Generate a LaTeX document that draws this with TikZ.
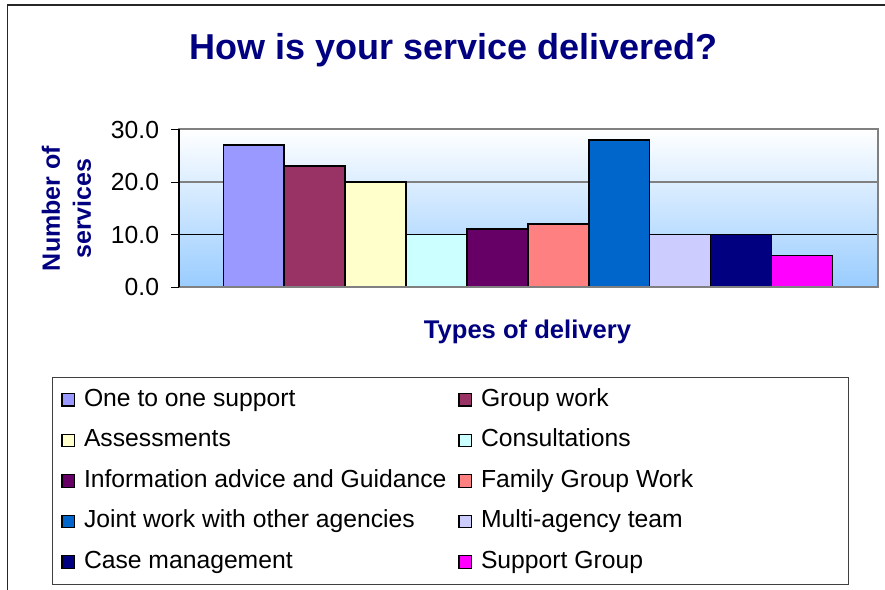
\documentclass[tikz,border=0pt]{standalone}
\usepackage{fontspec}
\setmainfont{Liberation Sans}
\definecolor{navytxt}{HTML}{000080}
\definecolor{plotblue}{HTML}{99CCFF}
\definecolor{cA}{HTML}{9999FF}
\definecolor{cB}{HTML}{993366}
\definecolor{cC}{HTML}{FFFFCC}
\definecolor{cD}{HTML}{CCFFFF}
\definecolor{cE}{HTML}{660066}
\definecolor{cF}{HTML}{FF8080}
\definecolor{cG}{HTML}{0066CC}
\definecolor{cH}{HTML}{CCCCFF}
\definecolor{cI}{HTML}{000080}
\definecolor{cJ}{HTML}{FF00FF}
\begin{document}
\begin{tikzpicture}[x=1pt,y=-1pt, inner sep=0pt, outer sep=0pt,
  lbl/.style={font=\fontsize{24.7}{30}\selectfont},
  axtitle/.style={font=\fontsize{25}{31}\selectfont\bfseries, text=navytxt},
  bar/.style={draw=black, line width=1.6pt},
  key/.style={draw=black, line width=1.1pt, minimum size=12.5pt, anchor=south west},
  tick/.style={black, line width=1pt}]
\useasboundingbox (0,0) rectangle (885,589);
\fill[white] (0,0) rectangle (885,589);
% outer chart border
\draw[line width=1.5pt, black!85] (7.5,592) -- (7.5,5) -- (890,5);
% title
\node[font=\fontsize{36}{40}\selectfont\bfseries, text=navytxt, anchor=base] (title) at (453.5,59.5) {How is your service delivered?};
% plot area
\shade[top color=white, bottom color=plotblue] (179,129) rectangle (878,287);
\draw[gray, line width=1.2pt] (179,182) -- (878,182);
\draw[black, line width=1.2pt] (179,234.5) -- (878,234.5);
\foreach \v/\c [count=\i] in {27/cA,23/cB,20/cC,10/cD,11/cE,12/cF,28/cG,10/cH,10/cI,6/cJ}
  \node[bar, fill=\c, minimum width=60.9pt, minimum height={5.25*\v pt}, anchor=south west] (bar\i) at ({223.3+(\i-1)*60.9}, 287) {};
\draw[gray, line width=1.6pt] (179,129) rectangle (878,287);
\draw[black, line width=1.2pt] (179,129) -- (179,287);
% ticks and labels
\foreach \v/\t [count=\i] in {0/0.0,10/10.0,20/20.0,30/30.0} {
  \draw[tick] (171,{287-5.25*\v}) -- (179,{287-5.25*\v});
  \node[lbl, anchor=base east] (tl\i) at (159,{287-5.25*\v+8.85}) {\t};
}
% axis titles
\node[axtitle, rotate=90, align=center] (ytitle) at (66.5,208.5) {Number of\\services};
\node[axtitle, font=\fontsize{25.6}{31}\selectfont\bfseries, anchor=base] (xtitle) at (527.5,338.3) {Types of delivery};
% legend
\draw[black!75, line width=1pt] (52,377) rectangle (848,584);
\foreach \c/\t [count=\i] in {cA/One to one support, cC/Assessments, cE/Information advice and Guidance, cG/Joint work with other agencies, cI/Case management} {
  \node[key, fill=\c] (kl\i) at (62,{406+(\i-1)*40.6}) {};
  \node[lbl, anchor=base west] (tl\i) at (84,{406+(\i-1)*40.6}) {\t};
}
\foreach \c/\t [count=\i] in {cB/Group work, cD/Consultations, cF/Family Group Work, cH/Multi-agency team, cJ/Support Group} {
  \node[key, fill=\c] (kr\i) at (459,{406+(\i-1)*40.6}) {};
  \node[lbl, anchor=base west] (tr\i) at (481,{406+(\i-1)*40.6}) {\t};
}
\end{tikzpicture}
\end{document}
